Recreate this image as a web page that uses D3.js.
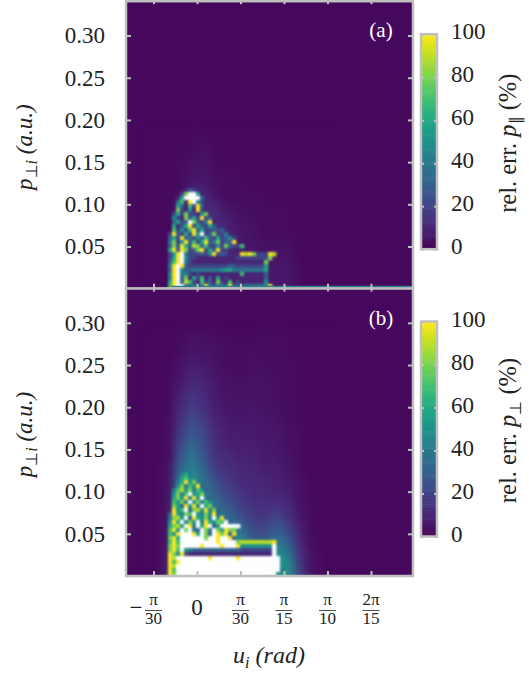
<!DOCTYPE html>
<html>
<head>
<meta charset="utf-8">
<script src="https://cdn.jsdelivr.net/npm/d3@7"></script>
<style>
body { margin: 0; background: #fff; }
svg { display: block; }
text { font-family: "Liberation Serif", serif; fill: #222; }
.axis path, .axis line { stroke: #c0c0c0; }
.axis line { stroke-width: 2; }
.axis path { display: none; }
.axis text { font-family: "Liberation Serif", serif; font-size: 23px; fill: #222; }
</style>
</head>
<body>
<svg id="plot-svg" width="529" height="674"></svg>
<script>
// x is in units of pi/30
const xTicks = [-1, 0, 1, 2, 3, 4];
const xNumer = ["π", "", "π", "π", "π", "2π"];
const xDenom = ["30", "", "30", "15", "10", "15"];
const yTicks = [0.05, 0.10, 0.15, 0.20, 0.25, 0.30];
const cbarTicks = [0, 20, 40, 60, 80, 100];

// broad glow, percent, columns step coarseDu from coarseU0, rows top down
const coarseU0 = -1.08, coarseDu = 0.276, coarseDp = 0.01422;
const coarseTopA = 0.188, coarseTopB = 0.2915;
const coarseA = [
    [2, 2, 2, 3, 3, 2, 2, 2, 2, 2, 2, 2, 2, 2, 2],
    [2, 2, 2, 3, 4, 3, 2, 2, 2, 2, 2, 2, 2, 2, 2],
    [2, 2, 3, 4, 5, 3, 2, 3, 2, 2, 2, 2, 2, 2, 2],
    [2, 2, 3, 5, 6, 3, 3, 3, 2, 2, 2, 2, 2, 2, 2],
    [2, 2, 3, 6, 7, 4, 3, 3, 3, 2, 2, 2, 2, 2, 2],
    [2, 2, 4, 12, 12, 5, 3, 3, 3, 3, 2, 3, 2, 2, 2],
    [2, 2, 6, 14, 16, 10, 5, 4, 3, 3, 3, 3, 2, 2, 2],
    [2, 2, 6, 14, 16, 12, 8, 5, 4, 3, 3, 3, 2, 2, 2],
    [2, 2, 6, 14, 16, 14, 10, 6, 5, 3, 3, 3, 2, 2, 2],
    [2, 2, 6, 14, 16, 14, 10, 7, 5, 4, 4, 4, 2, 2, 2],
    [2, 2, 6, 14, 16, 12, 10, 7, 6, 5, 5, 5, 2, 2, 2],
    [2, 2, 6, 14, 14, 10, 8, 7, 6, 6, 6, 6, 3, 2, 2],
    [2, 2, 6, 12, 12, 8, 7, 7, 6, 6, 6, 6, 3, 2, 2],
    [2, 2, 6, 12, 12, 8, 7, 7, 6, 6, 6, 6, 3, 2, 2]
];
const coarseB = [
    [2, 2, 3, 4, 4, 3, 3, 2, 3, 3, 3, 3, 2, 2, 2],
    [2, 2, 3, 5, 5, 4, 3, 3, 3, 3, 3, 3, 2, 2, 2],
    [2, 2, 4, 7, 6, 4, 3, 3, 4, 3, 3, 3, 3, 2, 2],
    [2, 2, 5, 9, 8, 5, 4, 3, 4, 4, 3, 3, 3, 2, 2],
    [2, 3, 7, 12, 10, 6, 4, 4, 5, 4, 4, 3, 3, 2, 2],
    [2, 3, 9, 15, 12, 7, 5, 4, 5, 4, 4, 3, 3, 2, 2],
    [2, 3, 11, 18, 14, 8, 6, 5, 6, 5, 4, 3, 3, 2, 2],
    [2, 3, 14, 22, 17, 9, 7, 6, 7, 6, 5, 3, 3, 2, 2],
    [2, 3, 17, 27, 20, 11, 8, 7, 7, 6, 6, 4, 3, 2, 2],
    [2, 3, 21, 32, 23, 12, 9, 8, 8, 7, 6, 4, 3, 2, 2],
    [2, 3, 26, 38, 26, 14, 11, 9, 9, 7, 7, 5, 3, 2, 2],
    [2, 4, 32, 44, 30, 17, 13, 11, 10, 8, 8, 6, 3, 2, 2],
    [2, 4, 38, 50, 36, 22, 16, 12, 11, 10, 9, 7, 4, 2, 2],
    [2, 4, 42, 50, 42, 28, 20, 15, 12, 11, 10, 9, 4, 2, 2],
    [2, 5, 44, 50, 45, 34, 26, 18, 14, 13, 14, 11, 5, 3, 2],
    [2, 5, 44, 50, 50, 42, 34, 24, 17, 15, 20, 14, 6, 3, 2],
    [2, 6, 44, 50, 50, 50, 44, 36, 22, 20, 28, 20, 8, 3, 2],
    [2, 6, 44, 50, 50, 50, 50, 46, 30, 27, 38, 28, 10, 3, 2],
    [2, 7, 44, 50, 50, 50, 50, 46, 40, 36, 48, 38, 13, 4, 2],
    [2, 8, 44, 50, 50, 50, 50, 50, 48, 48, 55, 48, 16, 4, 2],
    [2, 9, 44, 50, 50, 50, 50, 50, 50, 50, 58, 50, 18, 4, 2]
];

// speckle cells: "." no value, 0-9 tens of percent, a = 100, w = over range (white)
const fineU0 = -0.7586, fineDu = 0.092, fineDp = 0.00474;
const fineTopA = 0.1193, fineTopB = 0.1232;
const fineA = [
    ".....132",
    "....28ww61",
    "...16wwww3",
    "...471aw521",
    "...63172a31",
    "...82151a21",
    "..2628221581",
    "..5218362a231",
    "..3623w8324a1",
    "..6136a263263",
    "..72527a3622323",
    ".2a3262a5w238224",
    ".362a3425373262352",
    ".4825a3726a348233a",
    ".383a63983722 5283227".split(" ").join(""),
    ".6a3a8238a263a22",
    ".25aw4222325a232111a9a8222a9",
    ".26aw5221111111111222222228",
    ".37aw421111111111111111118",
    ".4awa322222222223322222226",
    ".3aw4334444444566444444446",
    ".5aw4521211111111117111113",
    ".4aw3816271316121111111113",
    ".6aw3972172318217121111115",
    ".7aww33434a43444a333444444a",
    ".7aww33434a43444a333444444a"
];
const fineB = [
    "....464",
    "...3675",
    "...46a584",
    "...58475a3",
    "..479584753",
    "..5847w5684",
    "..685a4a5w43",
    "..7584w58475",
    "..863a5a4w684",
    "..a57w3895a483",
    ".3a6487w5485a34",
    ".4895w3a6584w5a3",
    ".5a6w485w4a6587w3",
    ".6895wa4w6aw35wwwww",
    ".7a5w8w43w84w85a88",
    ".75awwwa6w83wa8a3a",
    ".8a6wwwwww8wwawwa3",
    ".7a7wwwwwwwwwawwww899999999a",
    ".8a8wwwwwawwwwawwwa55555555w",
    ".8a7w5433333333333322222222w",
    ".a85a2111111111111111111111w",
    ".a9wwwwwwwwawwwwwwawwwwwwwwww5",
    ".a7awwwwwwwwwwwwwwwwwwwwwwwww5",
    ".a9wwwwwwwwwwwwwwwwwwwwwwwwww5",
    ".a7wwwwwwwwwwwwwwwwwwwwwwwwww4",
    ".a8wwwwwwwwwwwwwwwwwwwwwwwww5",
    ".a8wwwwwwwwwwwwwwwwwwwwwwwww5",
    ".a8wwwwwwwwwwwwwwwwwwwwwwwww5"
];

// thin teal line along the bottom of panel (a)
const edgeLineA = { from: -0.6, to: 4.966, p0: 0.0015, p1: 0.0035, value: 42 };

const plotLeft = 126, plotRight = 413, plotH = 287.5;
const uDomain = [-1.632, 4.966];
const pDomain = [0, 0.3407];
const backgroundValue = 2;

const xScale = d3.scaleLinear().domain(uDomain).range([plotLeft, plotRight]);
const yScale = d3.scaleLinear().domain(pDomain).range([plotH, 0]);
const cScale = d3.scaleLinear().domain([0, 100]).range([215, 0]);

function color(v) {
    return v > 100 ? "#fff" : d3.interpolateViridis(v / 100);
}

function fineValue(ch) {
    if (ch === "." || ch === " ") return null;
    if (ch === "w") return 120;
    if (ch === "a") return 100;
    return ch === "0" ? backgroundValue : +ch * 10;
}

const svg = d3.select("#plot-svg");
const defs = svg.append("defs");

defs.append("filter").attr("id", "blurCoarse")
    .attr("color-interpolation-filters", "sRGB")
    .attr("x", "-20%").attr("y", "-20%").attr("width", "140%").attr("height", "140%")
    .append("feGaussianBlur").attr("stdDeviation", 4.5);
defs.append("filter").attr("id", "blurFine")
    .attr("color-interpolation-filters", "sRGB")
    .attr("x", "-10%").attr("y", "-10%").attr("width", "120%").attr("height", "120%")
    .append("feGaussianBlur").attr("stdDeviation", 1.25);
defs.append("clipPath").attr("id", "plotClip")
    .append("rect")
    .attr("x", plotLeft).attr("y", 0)
    .attr("width", plotRight - plotLeft).attr("height", plotH);

function drawPanel(top, coarse, coarseTop, fine, fineTop, tag) {
    const g = svg.append("g").attr("transform", "translate(0," + top + ")");
    const map = g.append("g").attr("clip-path", "url(#plotClip)");

    map.append("rect")
        .attr("x", plotLeft).attr("y", 0)
        .attr("width", plotRight - plotLeft).attr("height", plotH)
        .attr("fill", color(backgroundValue));

    // coarse glow
    const coarseCells = coarse.flatMap((row, r) => row.map((v, c) => ({ r: r, c: c, v: v })));
    map.append("g").attr("filter", "url(#blurCoarse)")
        .selectAll("rect").data(coarseCells).enter().append("rect")
        .attr("x", d => xScale(coarseU0 + d.c * coarseDu))
        .attr("y", d => yScale(coarseTop - d.r * coarseDp))
        .attr("width", xScale(coarseDu) - xScale(0) + 0.5)
        .attr("height", yScale(0) - yScale(coarseDp) + 0.5)
        .attr("fill", d => color(d.v));

    // fine speckle
    const fineCells = [];
    fine.forEach((row, r) => {
        row.split("").forEach((ch, c) => {
            const v = fineValue(ch);
            if (v !== null) fineCells.push({ r: r, c: c, v: v });
        });
    });
    map.append("g").attr("filter", "url(#blurFine)")
        .selectAll("rect").data(fineCells).enter().append("rect")
        .attr("x", d => xScale(fineU0 + d.c * fineDu))
        .attr("y", d => yScale(fineTop - d.r * fineDp))
        .attr("width", xScale(fineDu) - xScale(0) + 0.3)
        .attr("height", yScale(0) - yScale(fineDp) + 0.3)
        .attr("fill", d => color(d.v));

    // ticks, inside on all four sides
    g.append("g").attr("class", "axis")
        .attr("transform", "translate(" + plotLeft + ",0)")
        .call(d3.axisLeft(yScale).tickValues(yTicks).tickSize(-5).tickPadding(21)
            .tickFormat(d3.format(".2f")));
    g.append("g").attr("class", "axis")
        .attr("transform", "translate(" + plotRight + ",0)")
        .call(d3.axisRight(yScale).tickValues(yTicks).tickSize(-5).tickFormat(""));
    g.append("g").attr("class", "axis")
        .attr("transform", "translate(0," + plotH + ")")
        .call(d3.axisBottom(xScale).tickValues(xTicks).tickSize(-5).tickFormat(""));
    g.append("g").attr("class", "axis")
        .call(d3.axisTop(xScale).tickValues(xTicks).tickSize(-3).tickFormat(""));

    g.append("rect")
        .attr("x", plotLeft).attr("y", 0)
        .attr("width", plotRight - plotLeft).attr("height", plotH)
        .attr("fill", "none").attr("stroke", "#c0c0c0").attr("stroke-width", 2.5);

    g.append("text")
        .attr("x", 381).attr("y", 36)
        .attr("text-anchor", "middle")
        .style("font-size", "21px").style("fill", "#fff")
        .text(tag);

    // y label
    const yLabel = g.append("text")
        .attr("transform", "translate(32,146) rotate(-90)")
        .attr("text-anchor", "middle")
        .style("font-size", "23px").style("font-style", "italic");
    yLabel.append("tspan").text("p");
    yLabel.append("tspan").attr("dy", 5).style("font-size", "16px").style("font-style", "normal").text("⊥");
    yLabel.append("tspan").style("font-size", "16px").text("i");
    yLabel.append("tspan").attr("dy", -5).text(" (a.u.)");

    return g;
}

function drawColorbar(g, symbol) {
    const cb = g.append("g").attr("transform", "translate(421,33)");
    cb.selectAll("rect.step").data(d3.range(0, 100)).enter().append("rect")
        .attr("class", "step")
        .attr("x", 0).attr("width", 16)
        .attr("y", d => cScale(d + 1))
        .attr("height", d => cScale(d) - cScale(d + 1) + 0.5)
        .attr("fill", d => d3.interpolateViridis((d + 0.5) / 100));

    cb.append("g").attr("class", "axis")
        .call(d3.axisLeft(cScale).tickValues(cbarTicks).tickSize(-3).tickFormat(""));
    cb.append("g").attr("class", "axis")
        .attr("transform", "translate(16,0)")
        .call(d3.axisRight(cScale).tickValues(cbarTicks).tickSize(-3).tickFormat(""));
    cb.append("rect")
        .attr("x", 0).attr("y", 0).attr("width", 16).attr("height", 215)
        .attr("fill", "none").attr("stroke", "#c0c0c0").attr("stroke-width", 2.5);

    cb.selectAll("text.cbtick").data(cbarTicks).enter().append("text")
        .attr("class", "cbtick")
        .attr("x", 30).attr("y", d => cScale(d) + 5)
        .style("font-size", "23px")
        .text(d => d);

    const label = g.append("text")
        .attr("transform", "translate(516,142) rotate(-90)")
        .attr("text-anchor", "middle")
        .style("font-size", "24.5px");
    label.append("tspan").text("rel. err. ");
    label.append("tspan").style("font-style", "italic").text("p");
    label.append("tspan").attr("dy", 5).style("font-size", "16px").text(symbol);
    label.append("tspan").attr("dy", -5).text(" (%)");
}

const panelA = drawPanel(1.2, coarseA, coarseTopA, fineA, fineTopA, "(a)");
const panelB = drawPanel(288.5, coarseB, coarseTopB, fineB, fineTopB, "(b)");

panelA.select("g").append("rect")
    .attr("x", xScale(edgeLineA.from))
    .attr("y", yScale(edgeLineA.p1))
    .attr("width", xScale(edgeLineA.to) - xScale(edgeLineA.from))
    .attr("height", yScale(edgeLineA.p0) - yScale(edgeLineA.p1))
    .attr("fill", color(edgeLineA.value));

drawColorbar(panelA, "∥");
drawColorbar(panelB, "⊥");

// x tick labels as fractions
const xLabels = svg.append("g").selectAll("g").data(xTicks).enter().append("g")
    .attr("transform", d => "translate(" + xScale(d) + ",0)");
xLabels.filter(d => d === 0).append("text")
    .attr("y", 615).attr("text-anchor", "middle")
    .style("font-size", "23px")
    .text("0");
const fracs = xLabels.filter(d => d !== 0);
fracs.append("text")
    .attr("y", 605).attr("text-anchor", "middle")
    .style("font-size", "17px")
    .text(d => xNumer[xTicks.indexOf(d)]);
fracs.append("line")
    .attr("x1", -8.5).attr("x2", 8.5).attr("y1", 610.5).attr("y2", 610.5)
    .attr("stroke", "#222").attr("stroke-width", 0.8);
fracs.append("text")
    .attr("y", 624).attr("text-anchor", "middle")
    .style("font-size", "17px")
    .text(d => xDenom[xTicks.indexOf(d)]);
xLabels.filter(d => d < 0).append("text")
    .attr("x", -11).attr("y", 615).attr("text-anchor", "end")
    .style("font-size", "23px")
    .text("−");

// x label
const xLabel = svg.append("text")
    .attr("x", 269).attr("y", 663).attr("text-anchor", "middle")
    .style("font-size", "24px").style("font-style", "italic");
xLabel.append("tspan").text("u");
xLabel.append("tspan").attr("dy", 5).style("font-size", "16px").text("i");
xLabel.append("tspan").attr("dy", -5).text(" (rad)");
</script>
</body>
</html>
